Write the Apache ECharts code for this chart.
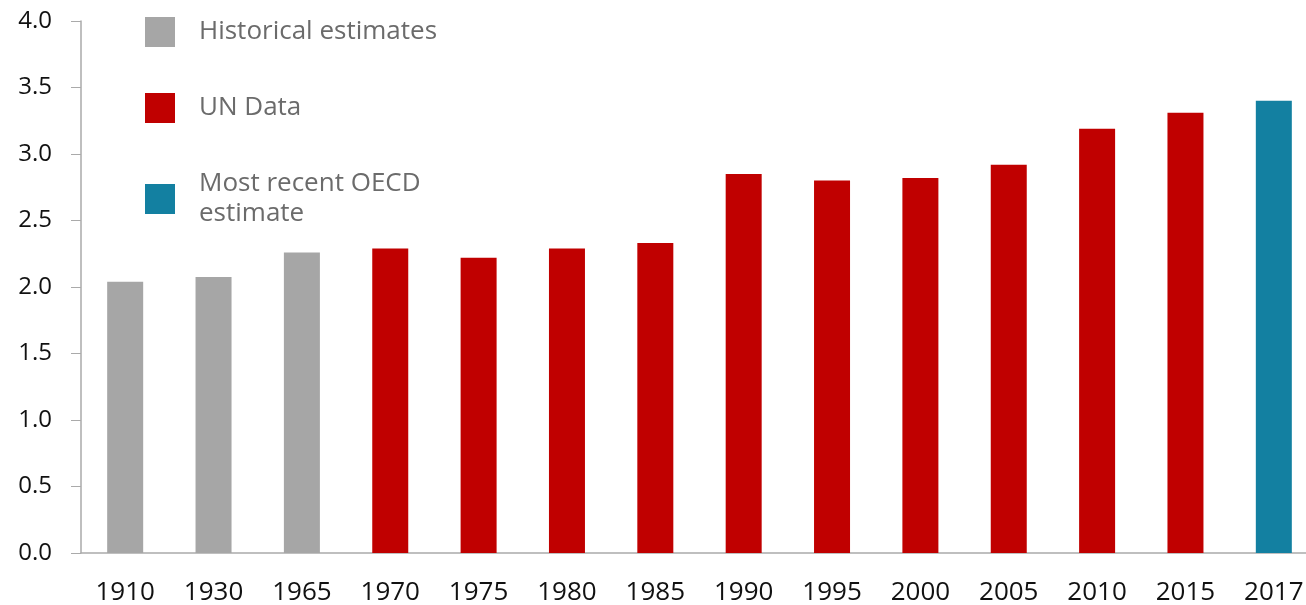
<!DOCTYPE html>
<html>
<head>
<meta charset="utf-8">
<script src="https://cdn.jsdelivr.net/npm/echarts@6/dist/echarts.min.js"></script>
<style>
  html, body { margin: 0; padding: 0; background: #fff; }
  #chart { width: 1306px; height: 605px; }
</style>
</head>
<body>
<div id="chart"></div>
<script>
const categories = ['1910', '1930', '1965', '1970', '1975', '1980', '1985', '1990', '1995', '2000', '2005', '2010', '2015', '2017']
const historical = [2.04, 2.075, 2.26, null, null, null, null, null, null, null, null, null, null, null]
const unData = [null, null, null, 2.29, 2.22, 2.29, 2.33, 2.85, 2.80, 2.82, 2.92, 3.19, 3.31, null]
const oecd = [null, null, null, null, null, null, null, null, null, null, null, null, null, 3.40]

const chart = echarts.init(document.getElementById('chart'))
const font = '"Open Sans", "Noto Sans", sans-serif'

function makeSeries(name, data, color) {
  return {
    name: name,
    type: 'bar',
    stack: 'all',
    data: data,
    barWidth: 36,
    itemStyle: { color: color }
  }
}

chart.setOption({
  animation: false,
  textStyle: { fontFamily: font },
  legend: {
    orient: 'vertical',
    left: 145,
    top: 17,
    padding: 0,
    itemWidth: 30,
    itemHeight: 30,
    itemGap: 46,
    icon: 'rect',
    textStyle: { fontSize: 26, color: '#6b6b6b', fontFamily: font, lineHeight: 30, padding: [0, 0, 0, 19] },
    data: ['Historical estimates', 'UN Data', 'Most recent OECD\nestimate']
  },
  // the plot runs a little past the right edge of the picture
  grid: { left: 81, width: 1237, top: 21, bottom: 52, containLabel: false, outerBoundsMode: 'none' },
  xAxis: {
    type: 'category',
    data: categories,
    axisLine: { lineStyle: { color: '#aaaaaa', width: 1.5 } },
    axisTick: { length: 9, lineStyle: { color: '#aaaaaa' } },
    axisLabel: { fontSize: 26, color: '#111', margin: 27, fontFamily: font }
  },
  yAxis: {
    type: 'value',
    min: 0,
    max: 4,
    interval: 0.5,
    axisLine: { show: true, lineStyle: { color: '#aaaaaa', width: 1.5 } },
    axisTick: { show: true, length: 10, lineStyle: { color: '#aaaaaa' } },
    splitLine: { show: false },
    axisLabel: {
      fontSize: 24, color: '#111', margin: 29, fontFamily: font,
      formatter: v => v.toFixed(1)
    }
  },
  series: [
    makeSeries('Historical estimates', historical, '#a6a6a6'),
    makeSeries('UN Data', unData, '#c00000'),
    makeSeries('Most recent OECD\nestimate', oecd, '#1380a1')
  ]
})
</script>
</body>
</html>
